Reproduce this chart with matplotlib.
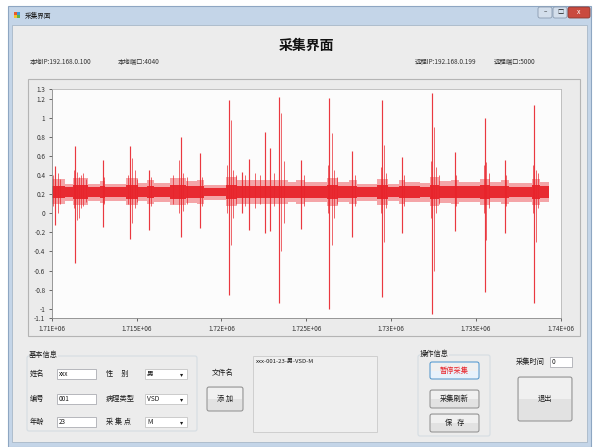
import numpy as np
import matplotlib
matplotlib.use("Agg")
import matplotlib.pyplot as plt
from matplotlib.patches import Rectangle, FancyBboxPatch

plt.rcParams['font.family'] = ['Noto Sans CJK SC', 'DejaVu Sans']
plt.rcParams['axes.unicode_minus'] = False

RED = "#e8232b"

# ---- waveform: background noise band, piecewise by segment ----
seg_start = [1710000, 1710800, 1711250, 1712150, 1712850, 1713150, 1714400,
             1715100, 1715600, 1716000, 1716950, 1717900, 1718550, 1718950,
             1720300, 1720950, 1723900, 1724400, 1724950, 1726200, 1726900,
             1727500, 1728000, 1729200, 1729850, 1730450, 1730850, 1731700,
             1732300, 1732800, 1733550, 1734000, 1735250, 1735850, 1736500,
             1736950, 1738300, 1738800]
seg_end = 1739300
fuzz_lo = [0.10, 0.13, 0.09, 0.13, 0.11, 0.13, 0.09, 0.13, 0.10, 0.12, 0.09,
           0.11, 0.10, 0.14, 0.08, 0.10, 0.12, 0.10, 0.12, 0.08, 0.12, 0.10,
           0.13, 0.09, 0.13, 0.10, 0.12, 0.12, 0.08, 0.11, 0.10, 0.12, 0.09,
           0.12, 0.10, 0.12, 0.09, 0.12]
fuzz_hi = [0.36, 0.31, 0.37, 0.31, 0.34, 0.31, 0.37, 0.32, 0.35, 0.32, 0.37,
           0.34, 0.35, 0.30, 0.38, 0.35, 0.33, 0.35, 0.33, 0.37, 0.33, 0.35,
           0.31, 0.36, 0.31, 0.35, 0.33, 0.32, 0.38, 0.34, 0.35, 0.33, 0.36,
           0.33, 0.35, 0.32, 0.36, 0.33]
core_lo = [0.16, 0.17, 0.15, 0.17, 0.16, 0.17, 0.15, 0.17, 0.16, 0.17, 0.15,
           0.16, 0.16, 0.18, 0.15, 0.16, 0.16, 0.16, 0.16, 0.15, 0.16, 0.16,
           0.17, 0.15, 0.17, 0.16, 0.16, 0.17, 0.15, 0.16, 0.16, 0.16, 0.15,
           0.16, 0.16, 0.17, 0.15, 0.16]
core_hi = [0.28, 0.27, 0.29, 0.27, 0.28, 0.27, 0.29, 0.27, 0.28, 0.27, 0.29,
           0.28, 0.28, 0.26, 0.30, 0.28, 0.28, 0.28, 0.28, 0.29, 0.28, 0.28,
           0.27, 0.29, 0.27, 0.28, 0.28, 0.27, 0.30, 0.28, 0.28, 0.28, 0.29,
           0.28, 0.28, 0.27, 0.29, 0.28]

# ---- main spikes ----
spike_x = [1710200, 1711370, 1713010, 1714620, 1715760, 1717610, 1718745,
           1720440, 1721200, 1721630, 1722595, 1722870, 1723400, 1724720,
           1726370, 1727720, 1729460, 1730640, 1732440, 1733760, 1735510,
           1736690, 1738440]
spike_hi = [0.49, 0.705, 0.56, 0.70, 0.45, 0.80, 0.63, 1.19, 0.43, 0.57,
            0.855, 0.68, 1.22, 0.56, 1.21, 0.65, 1.18, 0.59, 1.255, 0.645,
            0.995, 0.56, 1.134]
spike_lo = [-0.12, -0.52, -0.14, -0.27, -0.175, -0.245, -0.15, -0.86, 0.0,
            -0.175, -0.21, -0.19, -0.94, -0.17, -1.00, -0.245, -0.88, -0.21,
            -1.05, -0.19, -0.82, -0.21, -0.94]

# smaller strokes in the bursts around each spike
burst_x = [1710080, 1710350, 1710500, 1711300, 1711500, 1711600, 1711700,
           1711850, 1712000, 1713100, 1714500, 1714760, 1714900, 1715050,
           1715850, 1717150, 1717500, 1717750, 1717950, 1718850, 1720350,
           1720560, 1720700, 1720850, 1721400, 1722000, 1722300, 1723100,
           1723520, 1723700, 1724850, 1726300, 1726520, 1726650, 1726800,
           1727850, 1729400, 1729580, 1729700, 1730750, 1732380, 1732560,
           1732650, 1732850, 1733850, 1735450, 1735620, 1735750, 1736800,
           1738380, 1738540, 1738650]
burst_hi = [0.40, 0.42, 0.36, 0.45, 0.43, 0.38, 0.40, 0.42, 0.36, 0.38, 0.40,
            0.58, 0.45, 0.36, 0.38, 0.40, 0.56, 0.42, 0.38, 0.38, 0.50, 0.98,
            0.45, 0.40, 0.40, 0.42, 0.40, 0.42, 1.05, 0.55, 0.40, 0.50, 0.84,
            0.45, 0.38, 0.40, 0.48, 0.715, 0.42, 0.40, 0.55, 0.907, 0.48, 0.40,
            0.40, 0.50, 0.54, 0.42, 0.40, 0.50, 0.45, 0.42]
burst_lo = [0.08, 0.00, 0.10, 0.05, -0.07, -0.05, 0.05, 0.08, 0.12, 0.10,
            0.10, -0.10, 0.05, 0.12, 0.08, 0.10, 0.00, 0.02, 0.10, 0.08, 0.00,
            -0.33, -0.05, 0.10, 0.08, 0.05, 0.10, 0.08, -0.40, -0.10, 0.08,
            0.00, -0.33, -0.05, 0.10, 0.08, 0.00, -0.30, 0.05, 0.08, -0.05,
            -0.60, 0.00, 0.10, 0.08, 0.00, -0.28, 0.05, 0.08, 0.00, -0.30,
            0.05]

y_ticks = [1.3, 1.2, 1, 0.8, 0.6, 0.4, 0.2, 0, -0.2, -0.4, -0.6, -0.8, -1, -1.1]
x_ticks = [1710000, 1715000, 1720000, 1725000, 1730000, 1735000, 1740000]

W, H = 594, 447
fig = plt.figure(figsize=(W / 100, H / 100), dpi=100)
fig.patch.set_facecolor("white")
bg = fig.add_axes([0, 0, 1, 1])
bg.set_xlim(0, W)
bg.set_ylim(H, 0)
bg.axis("off")


def rect(x0, y0, x1, y1, fc, ec="none", lw=0.8, z=1, rounded=False):
    if rounded:
        p = FancyBboxPatch((x0, y0), x1 - x0, y1 - y0,
                           boxstyle="round,pad=0,rounding_size=2",
                           fc=fc, ec=ec, lw=lw, zorder=z)
    else:
        p = Rectangle((x0, y0), x1 - x0, y1 - y0, fc=fc, ec=ec, lw=lw, zorder=z)
    bg.add_patch(p)


def label(x, y, s, size=5.2, ha="left", color="#1a1a1a", weight="normal", z=5):
    bg.text(x, y, s, fontsize=size, ha=ha, va="center", color=color,
            fontweight=weight, zorder=z)


def textbox(x0, y0, x1, y1, s):
    rect(x0, y0, x1, y1, "white", "#abadb3", 0.6, z=3)
    label(x0 + 2, (y0 + y1) / 2, s, size=4.6)


def combo(x0, y0, x1, y1, s):
    rect(x0, y0, x1, y1, "white", "#c5c5c5", 0.6, z=3)
    label(x0 + 2, (y0 + y1) / 2, s, size=4.8)
    label(x1 - 5, (y0 + y1) / 2 + 0.5, "▾", size=4.5, ha="center")


def button(x0, y0, x1, y1, s, color="#1a1a1a", ec="#8c8c8c", fc="#e2e2e2"):
    rect(x0, y0, x1, y1, fc, ec, 0.7, z=3, rounded=True)
    rect(x0 + 1, y0 + 1, x1 - 1, (y0 + y1) / 2, "#f0f0f0", z=3)
    label((x0 + x1) / 2, (y0 + y1) / 2, s, size=5.2, ha="center", color=color)


def group(x0, y0, x1, y1, title):
    rect(x0, y0, x1, y1, "none", "#d5dde3", 0.8, z=2, rounded=True)
    bg.text(x0 + 2, y0 - 1, title, fontsize=5.2, ha="left", va="center",
            color="#1a1a1a", zorder=5,
            bbox=dict(fc="#ececec", ec="none", pad=0.3))


# window frame, title bar and client area
rect(8, 6, 591, 447, "#c4d5e8", "#8ea6c2", 0.8, z=0)
rect(12, 25, 587, 442, "#ececec", "#a8b8c8", 0.6, z=0.5)
rect(538, 7, 552, 18, "#d3deeb", "#8a9bb0", 0.6, z=1, rounded=True)
rect(553, 7, 567, 18, "#d3deeb", "#8a9bb0", 0.6, z=1, rounded=True)
rect(568, 7, 590, 18, "#c94a3f", "#8a3a33", 0.6, z=1, rounded=True)
label(545, 12.5, "–", size=4.5, ha="center")
label(560, 12.5, "□", size=4.5, ha="center")
label(579, 12.5, "x", size=5, ha="center", color="white")
rect(14, 12, 17, 15, "#e85a2a", z=2)
rect(17, 12, 20, 15, "#3a9ad9", z=2)
rect(14, 15, 17, 18, "#f2c12e", z=2)
rect(17, 15, 20, 18, "#5fb34a", z=2)
label(25, 15.5, "采集界面", size=4.8)

label(306, 46, "采集界面", size=10, ha="center", weight="bold", color="#111111")
label(30, 62, "本地IP:192.168.0.100", size=4.6, color="#333333")
label(118, 62, "本地端口:4040", size=4.6, color="#333333")
label(415, 62, "远程IP:192.168.0.199", size=4.6, color="#333333")
label(494, 62, "远程端口:5000", size=4.6, color="#333333")

# chart panel
rect(28, 79, 580, 336, "#ebebeb", "#b4b4b4", 0.8, z=1)

# bottom controls
group(27, 356, 197, 431, "基本信息")
rows = [374, 399, 422]
for yc, name, val in zip(rows, ["姓名", "编号", "年龄"], ["xxx", "001", "23"]):
    label(30, yc, name)
    textbox(57, yc - 5, 96, yc + 5, val)
for yc, name, val in zip(rows, ["性     别", "病理类型", "采 集 点"], ["男", "VSD", "M"]):
    label(106, yc, name)
    combo(145, yc - 5, 187, yc + 5, val)

label(223, 373, "文件名", ha="center")
button(207, 387, 243, 411, "添 加")
rect(253, 356, 377, 432, "#efefef", "#cfcfcf", 0.7, z=3)
label(256, 361, "xxx-001-23-男-VSD-M", size=4.3)

group(418, 355, 490, 436, "操作信息")
button(430, 362, 479, 379, "暂停采集", color="#e8232b", ec="#4a90c8",
       fc="#e8f2fb")
button(430, 390, 479, 408, "采集刷新")
button(430, 414, 479, 432, "保   存")

label(516, 362, "采集时间")
textbox(550, 357, 572, 367, "0")
button(518, 377, 572, 421, "退出")

# signal plot
L, R, T, B = 51.7, 560.7, 89.0, 318.3
ax = fig.add_axes([L / W, 1 - B / H, (R - L) / W, (B - T) / H])
ax.set_facecolor("#fcfcfc")

xs = seg_start + [seg_end]
ax.fill_between(xs, fuzz_lo + fuzz_lo[-1:], fuzz_hi + fuzz_hi[-1:],
                step="post", color=RED, alpha=0.4, lw=0)
ax.fill_between(xs, core_lo + core_lo[-1:], core_hi + core_hi[-1:],
                step="post", color=RED, alpha=0.95, lw=0)
ax.vlines(burst_x, burst_lo, burst_hi, color=RED, lw=0.7, alpha=0.7)
ax.vlines(spike_x, spike_lo, spike_hi, color=RED, lw=0.85, alpha=0.9)

ax.set_xlim(1710000, 1740000)
ax.set_ylim(-1.1, 1.3)
ax.set_yticks(y_ticks)
ax.set_yticklabels([f"{v:g}" for v in y_ticks])
ax.set_xticks(x_ticks)
ax.set_xticklabels([format(v, ".4G") for v in x_ticks])
ax.tick_params(labelsize=4.6, length=2.5, width=0.5, colors="#333333", pad=2)
for s in ax.spines.values():
    s.set_color("#b8b8b8")
    s.set_linewidth(0.6)
ax.spines["left"].set_color("#888888")
ax.spines["bottom"].set_color("#888888")

fig.savefig("out.png", dpi=100)
